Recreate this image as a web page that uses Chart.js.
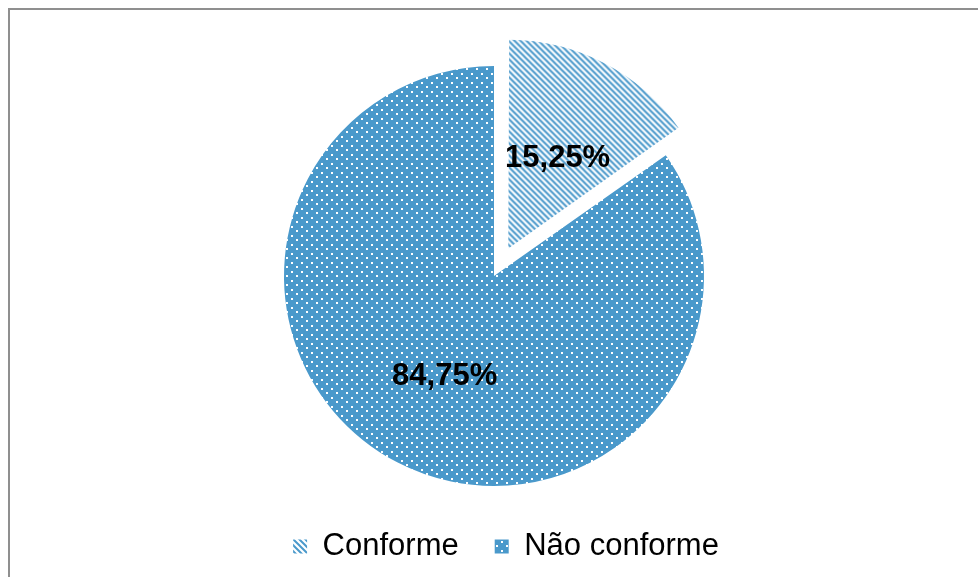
<!DOCTYPE html>
<html>
<head>
<meta charset="utf-8">
<script src="https://cdn.jsdelivr.net/npm/chart.js@4.4.1/dist/chart.umd.min.js"></script>
<style>
  html, body { margin: 0; padding: 0; background: #fff; overflow: hidden; }
  #frame { position: absolute; left: 8px; top: 8px; width: 1100px; height: 700px; border: 2px solid #8f8f8f; }
  #wrap { position: absolute; left: 0; top: 0; width: 978px; height: 577px; }
</style>
</head>
<body>
<div id="frame"></div>
<div id="wrap"><canvas id="pie" width="978" height="577"></canvas></div>
<script>
const labels = ["Conforme", "Não conforme"];
const values = [15.25, 84.75];
const valueLabels = ["15,25%", "84,75%"];
// chart.js moves an arc by offset / 4, so 124 -> ~31px
const offsets = [124, 0];

const blue = "#4a99cb";

function stripePattern() {
    const c = document.createElement("canvas");
    c.width = 6; c.height = 6;
    const g = c.getContext("2d");
    g.fillStyle = "#fff";
    g.fillRect(0, 0, 6, 6);
    g.strokeStyle = blue;
    g.lineWidth = 2;
    g.beginPath();
    g.moveTo(-1, -1); g.lineTo(7, 7);
    g.moveTo(-1, 5); g.lineTo(1, 7);
    g.moveTo(5, -1); g.lineTo(7, 1);
    g.stroke();
    return g.createPattern(c, "repeat");
}

function dotPattern() {
    const c = document.createElement("canvas");
    c.width = 10; c.height = 9;
    const g = c.getContext("2d");
    g.fillStyle = blue;
    g.fillRect(0, 0, 10, 9);
    g.fillStyle = "#fff";
    g.fillRect(1, 1, 2, 2);
    g.fillRect(6, 5, 2, 2);
    return g.createPattern(c, "repeat");
}

// the offset also grows the arc a bit; trim it back to the pie radius
const trimExploded = {
    id: "trimExploded",
    afterDatasetsUpdate(chart) {
        chart.getDatasetMeta(0).data.forEach(arc => {
            if (arc.options.offset) arc.outerRadius -= 7;
        });
    }
};

const sliceLabels = {
    id: "sliceLabels",
    afterDatasetsDraw(chart) {
        const ctx = chart.ctx;
        const arcs = chart.getDatasetMeta(0).data;
        ctx.save();
        ctx.font = "bold 31px 'Liberation Sans', Arial, sans-serif";
        ctx.fillStyle = "#000";
        ctx.textAlign = "center";
        ctx.textBaseline = "middle";
        arcs.forEach((arc, i) => {
            const mid = (arc.startAngle + arc.endAngle) / 2;
            const r = 107 + (arc.options.offset || 0) / 4;
            ctx.fillText(valueLabels[i], arc.x + Math.cos(mid) * r, arc.y + Math.sin(mid) * r + 5);
        });
        ctx.restore();
    }
};

// legend sits a little right of the pie centre in the original
const legendShift = {
    id: "legendShift",
    afterLayout(chart) {
        chart.legend.left += 12;
        chart.legend.right += 12;
    }
};

new Chart(document.getElementById("pie"), {
    type: "pie",
    data: {
        labels: labels,
        datasets: [{
            data: values,
            backgroundColor: [stripePattern(), dotPattern()],
            borderWidth: 0,
            offset: offsets,
        }],
    },
    options: {
        responsive: false,
        animation: false,
        radius: 210,
        layout: { padding: { left: 10, right: 0, top: 57, bottom: 5 } },
        plugins: {
            tooltip: { enabled: false },
            legend: {
                position: "bottom",
                labels: {
                    boxWidth: 14,
                    boxHeight: 14,
                    padding: 36,
                    color: "#000",
                    font: { family: "'Liberation Sans', Arial, sans-serif", size: 31 },
                },
            },
        },
    },
    plugins: [trimExploded, sliceLabels, legendShift],
});
</script>
</body>
</html>
